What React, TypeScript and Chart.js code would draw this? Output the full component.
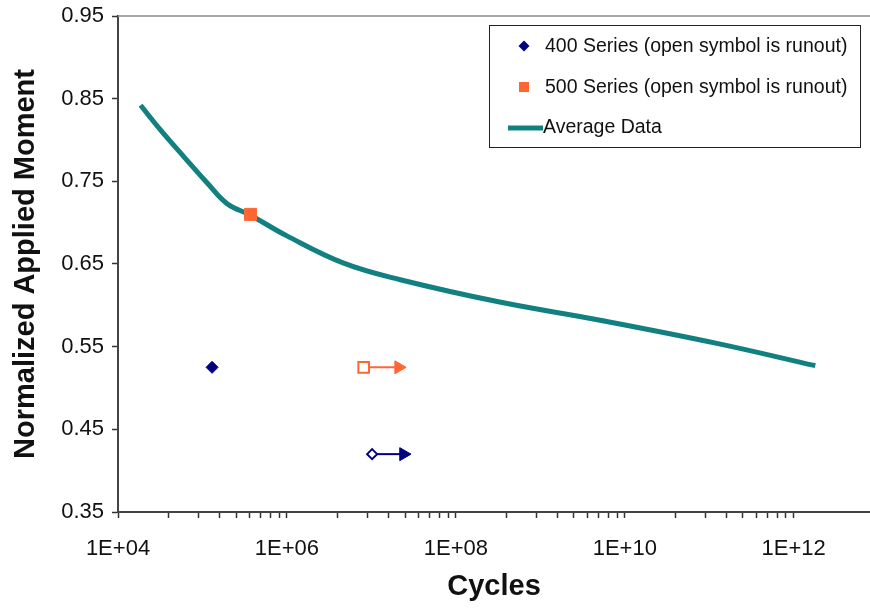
import React, { useEffect, useRef } from "react";
import { Chart, registerables } from "chart.js";

Chart.register(...registerables);

// ---- data ----
const avgCycles = [1.85e4, 3.2e4, 6.0e4, 1.14e5, 1.96e5, 3.7e5, 1.0e6, 4.7e6, 2.2e7, 3.3e8, 5.1e9, 1.23e11, 1.8e12];
const avgMoment = [0.842, 0.812, 0.78, 0.748, 0.723, 0.709, 0.684, 0.651, 0.631, 0.604, 0.582, 0.554, 0.527];

const s400Cycles = [1.3e5];
const s400Moment = [0.525];
const s500Cycles = [3.7e5];
const s500Moment = [0.71];

// runouts: [open symbol, arrow tip]
const s400RunoutCycles = [1.02e7, 2.4e7];
const s400RunoutMoment = [0.42, 0.42];
const s500RunoutCycles = [8.1e6, 2.1e7];
const s500RunoutMoment = [0.525, 0.525];

const xMajorTicks = [1e4, 1e6, 1e8, 1e10, 1e12];
const xMinorFactors = [4, 9, 16, 25, 36, 49, 64, 81];
const yTicks = [0.35, 0.45, 0.55, 0.65, 0.75, 0.85, 0.95];

const legendLabels = [
  "400 Series (open symbol is runout)",
  "500 Series (open symbol is runout)",
  "Average Data",
];

const NAVY = "#000080";
const ORANGE = "#ff6633";
const TEAL = "#128080";
const FONT = '"Liberation Sans", Arial, Helvetica, sans-serif';

const xAllTicks: number[] = [];
xMajorTicks.forEach((m, i) => {
  xAllTicks.push(m);
  if (i < xMajorTicks.length - 1) xMinorFactors.forEach((f) => xAllTicks.push(m * f));
});
xAllTicks.sort((a, b) => a - b);

const pts = (xs: number[], ys: number[]) => xs.map((x, i) => ({ x, y: ys[i] }));

const fmtExp = (v: number) => {
  const e = Math.round(Math.log10(v));
  return "1E+" + String(e).padStart(2, "0");
};

const frameLegendPlugin = {
  id: "frameLegend",
  afterDraw(chart: any) {
    const ctx = chart.ctx as CanvasRenderingContext2D;
    const { left, right, top } = chart.chartArea;
    ctx.save();
    // top border of plot area
    ctx.strokeStyle = "#8a8a8a";
    ctx.lineWidth = 1.5;
    ctx.beginPath();
    ctx.moveTo(left, top);
    ctx.lineTo(right, top);
    ctx.stroke();

    // legend box
    const bx = 489, by = 25, bw = 371, bh = 122;
    ctx.fillStyle = "#ffffff";
    ctx.fillRect(bx, by, bw, bh);
    ctx.strokeStyle = "#222";
    ctx.lineWidth = 1;
    ctx.strokeRect(bx + 0.5, by + 0.5, bw, bh);

    // diamond
    ctx.fillStyle = NAVY;
    ctx.beginPath();
    ctx.moveTo(524, 46 - 5.5);
    ctx.lineTo(524 + 5.5, 46);
    ctx.lineTo(524, 46 + 5.5);
    ctx.lineTo(524 - 5.5, 46);
    ctx.closePath();
    ctx.fill();
    // square
    ctx.fillStyle = ORANGE;
    ctx.fillRect(519, 82, 10, 10);
    // line
    ctx.strokeStyle = TEAL;
    ctx.lineWidth = 5;
    ctx.beginPath();
    ctx.moveTo(508, 128);
    ctx.lineTo(543, 128);
    ctx.stroke();

    ctx.fillStyle = "#111";
    ctx.font = "19.5px " + FONT;
    ctx.textBaseline = "middle";
    ctx.textAlign = "left";
    ctx.fillText(legendLabels[0], 545, 47);
    ctx.fillText(legendLabels[1], 545, 88);
    ctx.fillText(legendLabels[2], 543, 128);
    ctx.restore();
  },
};

export default function App() {
  const ref = useRef<HTMLCanvasElement>(null);
  useEffect(() => {
    if (!ref.current) return;
    Chart.defaults.font.family = FONT;
    Chart.defaults.color = "#111";
    const chart = new Chart(ref.current, {
      type: "line",
      data: {
        datasets: [
          {
            label: legendLabels[2],
            data: pts(avgCycles, avgMoment),
            borderColor: TEAL,
            borderWidth: 5,
            pointRadius: 0,
            tension: 0.4,
            fill: false,
            order: 5,
          },
          {
            label: legendLabels[0],
            data: pts(s400Cycles, s400Moment),
            showLine: false,
            pointStyle: "rectRot",
            pointRadius: 6,
            pointBackgroundColor: NAVY,
            pointBorderColor: NAVY,
            pointBorderWidth: 1,
            order: 1,
          },
          {
            label: legendLabels[1],
            data: pts(s500Cycles, s500Moment),
            showLine: false,
            pointStyle: "rect",
            pointRadius: 8.5,
            pointBackgroundColor: ORANGE,
            pointBorderColor: ORANGE,
            pointBorderWidth: 1,
            order: 1,
          },
          {
            label: "400 runout",
            data: pts(s400RunoutCycles, s400RunoutMoment),
            showLine: true,
            borderColor: NAVY,
            borderWidth: 2,
            pointStyle: ["rectRot", "triangle"] as any,
            pointRadius: [5, 7.5] as any,
            pointRotation: [0, 90] as any,
            pointBackgroundColor: ["#ffffff", NAVY] as any,
            pointBorderColor: NAVY,
            pointBorderWidth: [2, 1] as any,
            order: 2,
          },
          {
            label: "500 runout",
            data: pts(s500RunoutCycles, s500RunoutMoment),
            showLine: true,
            borderColor: ORANGE,
            borderWidth: 2,
            pointStyle: ["rect", "triangle"] as any,
            pointRadius: [7.5, 7.5] as any,
            pointRotation: [0, 90] as any,
            pointBackgroundColor: ["#ffffff", ORANGE] as any,
            pointBorderColor: ORANGE,
            pointBorderWidth: [2, 1] as any,
            order: 2,
          },
        ],
      },
      options: {
        animation: false,
        responsive: false,
        devicePixelRatio: 1,
        layout: { autoPadding: false, padding: { top: 16, right: 0, left: 0, bottom: 0 } },
        plugins: { legend: { display: false }, tooltip: { enabled: false } },
        scales: {
          x: {
            type: "logarithmic",
            min: 1e4,
            max: 8e12,
            afterBuildTicks: (scale: any) => {
              scale.ticks = xAllTicks.map((v) => ({ value: v }));
            },
            afterFit: (scale: any) => {
              scale.height = 98;
              scale.paddingLeft = 0;
              scale.paddingRight = 0;
            },
            ticks: {
              autoSkip: false,
              maxRotation: 0,
              minRotation: 0,
              padding: 18,
              color: "#111",
              font: { size: 22 },
              callback: (v: any) => {
                const n = Number(v);
                return xMajorTicks.some((m) => Math.abs(m - n) / m < 1e-9) ? fmtExp(n) : "";
              },
            },
            grid: {
              display: true,
              drawOnChartArea: false,
              drawTicks: true,
              tickLength: 6,
              tickColor: "#333",
              tickWidth: 1.5,
            },
            border: { display: true, color: "#444", width: 2 },
            title: {
              display: true,
              text: "Cycles",
              color: "#111",
              font: { size: 29, weight: "bold" },
              padding: { top: 0, bottom: 6 },
            },
          },
          y: {
            type: "linear",
            min: 0.35,
            max: 0.95,
            afterBuildTicks: (scale: any) => {
              scale.ticks = yTicks.map((v) => ({ value: v }));
            },
            afterFit: (scale: any) => {
              scale.width = 118;
              scale.paddingTop = 0;
              scale.paddingBottom = 0;
            },
            ticks: {
              padding: 8,
              color: "#111",
              font: { size: 22 },
              callback: (v: any) => Number(v).toFixed(2),
            },
            grid: {
              display: true,
              drawOnChartArea: false,
              drawTicks: true,
              tickLength: 6,
              tickColor: "#333",
              tickWidth: 1.5,
            },
            border: { display: true, color: "#444", width: 2 },
            title: {
              display: true,
              text: "Normalized Applied Moment",
              color: "#111",
              font: { size: 29, weight: "bold" },
              padding: { top: 9, bottom: 0 },
            },
          },
        },
      },
      plugins: [frameLegendPlugin],
    } as any);
    return () => chart.destroy();
  }, []);

  return (
    <div style={{ position: "fixed", left: 0, top: 0, width: 870, height: 610, background: "#fff" }}>
      <canvas ref={ref} width={870} height={610} style={{ display: "block", width: 870, height: 610 }} />
    </div>
  );
}
